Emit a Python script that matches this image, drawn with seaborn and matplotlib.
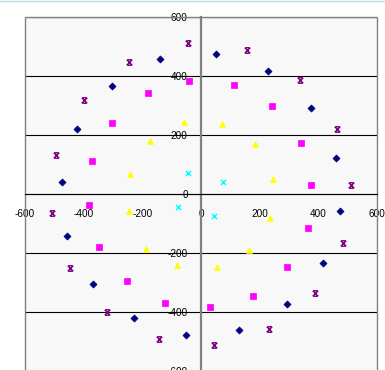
import numpy as np
import pandas as pd
import matplotlib
matplotlib.use("Agg")
import matplotlib.pyplot as plt
from matplotlib.path import Path
from matplotlib.patches import Rectangle
from matplotlib.lines import Line2D
import seaborn as sns

# series (data units)
navy_x = [50, 228, 376, 459, 473, 416, 294, 130, -51, -229, -368, -458, -475, -422, -305, -140]
navy_y = [474, 417, 292, 123, -57, -235, -372, -460, -477, -419, -306, -141, 41, 220, 365, 457]

purple_x = [156, 338, 463, 511, 485, 389, 233, 45, -142, -322, -448, -509, -495, -399, -245, -45]
purple_y = [487, 385, 220, 29, -165, -336, -458, -511, -490, -401, -250, -63, 132, 320, 447, 511]

magenta_x = [113, 243, 340, 375, 364, 293, 176, 32, -122, -251, -348, -383, -372, -303, -182, -40]
magenta_y = [370, 298, 173, 31, -116, -249, -345, -384, -371, -294, -180, -37, 111, 241, 341, 383]

yellow_x = [73, 185, 244, 236, 165, 53, -82, -187, -247, -241, -173, -59]
yellow_y = [238, 168, 52, -80, -190, -247, -242, -185, -57, 69, 181, 243]

cyan_x = [76, 43, -77, -45]
cyan_y = [41, -76, -44, 72]

ticks = [-600, -400, -200, 0, 200, 400, 600]

sns.set_style("white")
plt.rcParams['font.family'] = ['Liberation Sans', 'DejaVu Sans']

# excel style "x" marker with caps
star_path = Path([(-1, -1), (1, 1), (-1, 1), (1, -1), (-0.7, 1), (0.7, 1), (-0.7, -1), (0.7, -1)],
                 [Path.MOVETO, Path.LINETO] * 4)

fig = plt.figure(figsize=(3.85, 3.7), dpi=100)
ax = fig.add_axes([25 / 385, -1 / 370, 352 / 385, 354 / 370])
ax.set_facecolor('#f8f8f8')

sns.scatterplot(x=navy_x, y=navy_y, marker='D', s=13, color='#000080', edgecolor='#000080',
                linewidth=0.5, ax=ax, zorder=3)
sns.scatterplot(x=purple_x, y=purple_y, marker=star_path, s=16, color='#800080', edgecolor='#800080',
                linewidth=1.0, ax=ax, zorder=3)
sns.scatterplot(x=magenta_x, y=magenta_y, marker='s', s=14, color='#ff00ff', edgecolor='#ff00ff',
                linewidth=0.5, ax=ax, zorder=3)
sns.scatterplot(x=yellow_x, y=yellow_y, marker='^', s=18, color='#ffff00', edgecolor='#ffff00',
                linewidth=0.5, ax=ax, zorder=3)
sns.scatterplot(x=cyan_x, y=cyan_y, marker='x', s=14, color='#00ffff',
                linewidth=1.0, ax=ax, zorder=3)

ax.set_xlim(-600, 600)
ax.set_ylim(-600, 600)
ax.set_xticks(ticks)
ax.set_yticks(ticks)
ax.set_xticklabels([str(t) for t in ticks])
ax.set_yticklabels([str(t) for t in ticks])

ax.yaxis.grid(True, color='black', linewidth=0.8)
ax.xaxis.grid(False)
ax.set_axisbelow(True)

ax.spines['left'].set_position(('data', 0))
ax.spines['bottom'].set_position(('data', 0))
ax.spines['left'].set_color('#808080')
ax.spines['left'].set_linewidth(1.6)
ax.spines['bottom'].set_color('black')
ax.spines['bottom'].set_linewidth(0.8)
ax.spines['top'].set_visible(False)
ax.spines['right'].set_visible(False)

ax.add_patch(Rectangle((0, 0), 1, 1, transform=ax.transAxes, fill=False,
                       edgecolor='#808080', linewidth=1.0, clip_on=False, zorder=2.5))

ax.tick_params(axis='x', direction='out', length=2.5, width=0.8, color='black',
               pad=8, labelsize=7.2, labelcolor='black')
ax.tick_params(axis='y', direction='out', length=2.5, width=0.8, color='black',
               pad=7, labelsize=7.2, labelcolor='black')

fig.add_artist(Line2D([0, 1], [1 - 0.5 / 370, 1 - 0.5 / 370], transform=fig.transFigure,
                      color='#b4dde2', linewidth=1.0))

fig.savefig('out.png', dpi=100)
